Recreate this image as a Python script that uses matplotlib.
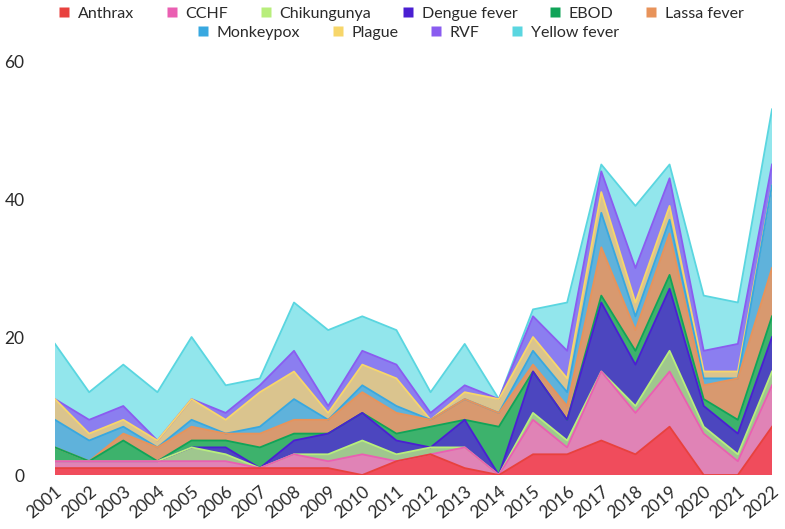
import numpy as np
import matplotlib
matplotlib.use("Agg")
import matplotlib.pyplot as plt
from matplotlib.lines import Line2D

years = list(range(2001, 2023))
series_names = ["Anthrax", "CCHF", "Chikungunya", "Dengue fever", "EBOD",
                "Lassa fever", "Monkeypox", "Plague", "RVF", "Yellow fever"]

anthrax     = [1, 1, 1, 1, 1, 1, 1, 1, 1, 0, 2, 3, 1, 0, 3, 3, 5, 3, 7, 0, 0, 7]
cchf        = [1, 1, 1, 1, 1, 1, 0, 2, 1, 3, 0, 0, 3, 0, 5, 1, 10, 6, 8, 6, 2, 6]
chikungunya = [0, 0, 0, 0, 2, 1, 0, 0, 1, 2, 1, 1, 0, 0, 1, 1, 0, 1, 3, 1, 1, 2]
dengue      = [0, 0, 0, 0, 0, 1, 0, 2, 3, 4, 2, 0, 4, 0, 6, 3, 10, 6, 9, 3, 3, 5]
ebod        = [2, 0, 3, 0, 1, 1, 3, 1, 0, 0, 1, 3, 0, 7, 0, 0, 1, 2, 2, 1, 2, 3]
lassa       = [0, 0, 1, 2, 2, 1, 2, 2, 2, 3, 3, 1, 3, 2, 1, 2, 7, 3, 6, 2, 6, 7]
monkeypox   = [4, 3, 1, 0, 1, 0, 1, 3, 0, 1, 1, 0, 0, 0, 2, 2, 5, 2, 2, 1, 0, 12]
plague      = [3, 1, 1, 1, 3, 2, 5, 4, 1, 3, 4, 0, 1, 2, 2, 2, 3, 2, 2, 1, 1, 0]
rvf         = [0, 2, 2, 0, 0, 1, 1, 3, 1, 2, 2, 1, 1, 0, 3, 4, 3, 5, 4, 3, 4, 3]
yellow      = [8, 4, 6, 7, 9, 4, 1, 7, 11, 5, 5, 3, 6, 0, 1, 7, 1, 9, 2, 8, 6, 8]

y_ticks = [0, 20, 40, 60]

values = [anthrax, cchf, chikungunya, dengue, ebod, lassa, monkeypox, plague, rvf, yellow]
line_colors = ["#e8413e", "#ea5fb2", "#b8ee7c", "#4a1fd2", "#10a458",
               "#e8935a", "#38a8e0", "#f7d66a", "#8a5cf0", "#5ad6e0"]
fill_colors = ["#f04c5c", "#e083b6", "#9fc78e", "#4c46bf", "#3db26c",
               "#d8996f", "#5fb2db", "#dac48e", "#8b7ef0", "#92e6ec"]

plt.rcParams['font.family'] = ['Lato', 'DejaVu Sans']

fig = plt.figure(figsize=(7.85, 5.29), dpi=100)
ax = fig.add_axes([55/785, 1-475/529, (772-55)/785, (475-61)/529])

x = np.array(years)
base = np.zeros(len(years))
tops = []
for vals, fc in zip(values, fill_colors):
    top = base + np.array(vals, dtype=float)
    ax.fill_between(x, base, top, facecolor=fc, edgecolor='none', zorder=2)
    tops.append(top)
    base = top
n = len(values)
for i in range(n - 1, -1, -1):
    ax.plot(x, tops[i], color=line_colors[i], lw=1.3, zorder=3 + (n - i))

ax.set_xlim(2001, 2022)
ax.set_ylim(0, 60)
ax.set_xticks(years)
ax.set_xticklabels([str(y) for y in years], rotation=40, ha='right',
                   rotation_mode='anchor', fontsize=12.5, color='#2a2a2a')
ax.set_yticks(y_ticks)
ax.set_yticklabels([str(v) for v in y_ticks], fontsize=12.5, color='#2a2a2a')
ax.tick_params(axis='both', length=0)
ax.tick_params(axis='y', pad=22)
ax.tick_params(axis='x', pad=6)
for s in ax.spines.values():
    s.set_visible(False)

def handles(idx):
    return [Line2D([0], [0], marker='s', color='none', markerfacecolor=line_colors[i],
                   markeredgecolor='none', markersize=7, label=series_names[i]) for i in idx]

leg1 = fig.legend(handles=handles(range(6)), loc='center', bbox_to_anchor=(400/785, 1-14/529),
                  ncol=6, frameon=False, fontsize=11.5, handletextpad=0.35,
                  columnspacing=1.85, handlelength=1.0, borderpad=0)
leg2 = fig.legend(handles=handles(range(6, 10)), loc='center', bbox_to_anchor=(407/785, 1-33/529),
                  ncol=4, frameon=False, fontsize=11.5, handletextpad=0.35,
                  columnspacing=1.85, handlelength=1.0, borderpad=0)
for leg in (leg1, leg2):
    for t in leg.get_texts():
        t.set_color('#2a2a2a')

fig.savefig("out.png", dpi=100)
